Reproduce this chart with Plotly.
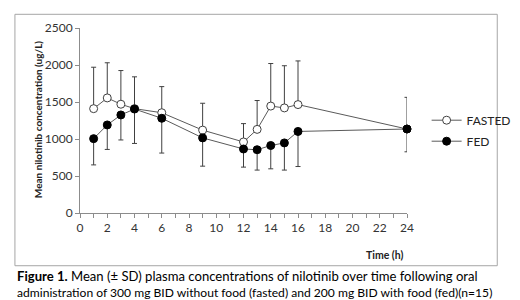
import plotly.graph_objects as go

time_h = [1, 2, 3, 4, 6, 9, 12, 13, 14, 15, 16, 24]
fasted_mean = [1410, 1555, 1470, 1410, 1355, 1120, 960, 1130, 1445, 1420, 1465, 1135]
fasted_sd = [560, 475, 455, 430, 353, 363, 248, 390, 575, 570, 590, 428]
fed_mean = [1005, 1190, 1325, 1405, 1280, 1015, 865, 855, 912, 947, 1102, 1135]
fed_sd = [355, 331, 338, 465, 470, 382, 245, 275, 315, 367, 474, 308]
y_ticks = [0, 500, 1000, 1500, 2000, 2500]
x_ticks = list(range(0, 25, 2))

FONT = "Lato"
line_col = "#5a5a5a"
err_col = "#404040"

fig = go.Figure()
fig.add_trace(go.Scatter(
    x=time_h, y=fasted_mean, name="FASTED", mode="lines+markers", legendgroup="a",
    line=dict(color=line_col, width=1),
    marker=dict(symbol="circle", size=8, color="white", line=dict(color="#404040", width=1)),
    error_y=dict(type="data", symmetric=False, array=fasted_sd, arrayminus=[0]*len(fasted_sd),
                 color=err_col, thickness=1, width=2.5),
    cliponaxis=False,
))
fig.add_trace(go.Scatter(
    x=time_h, y=fed_mean, name="FED", mode="lines+markers", legendgroup="b",
    line=dict(color=line_col, width=1),
    marker=dict(symbol="circle", size=8, color="black", line=dict(color="black", width=1)),
    error_y=dict(type="data", symmetric=False, array=[0]*len(fed_sd), arrayminus=fed_sd,
                 color=err_col, thickness=1, width=2.5),
    cliponaxis=False,
))

fig.update_layout(
    width=520, height=300,
    margin=dict(l=72, r=100, t=17, b=95),
    paper_bgcolor="white", plot_bgcolor="white",
    font=dict(family=FONT, size=11, color="#222222"),
    showlegend=True,
    legend=dict(x=1.06, y=0.58, xanchor="left", yanchor="top",
                font=dict(family=FONT, size=12, color="#222222"),
                bgcolor="rgba(0,0,0,0)", itemwidth=30, tracegroupgap=2,
                traceorder="grouped"),
    xaxis=dict(range=[0, 24], tickvals=x_ticks, ticks="outside", ticklen=4,
               tickcolor="#8c8c8c", showline=True, linecolor="#8c8c8c", linewidth=1,
               showgrid=False, zeroline=False,
               minor=dict(dtick=1, ticks="outside", ticklen=4, tickcolor="#8c8c8c", showgrid=False),
               tickfont=dict(family=FONT, size=12, color="#333333")),
    yaxis=dict(range=[0, 2500], tickvals=y_ticks, ticks="outside", ticklen=4,
               tickcolor="#8c8c8c", showline=True, linecolor="#8c8c8c", linewidth=1,
               showgrid=False, zeroline=False,
               tickfont=dict(family=FONT, size=12, color="#333333")),
    shapes=[dict(type="rect", xref="paper", yref="paper",
                 x0=-0.199, x1=1.276, y0=-0.285, y1=1.074,
                 line=dict(color="#a6a6a6", width=1))],
    annotations=[
        dict(text="<b>Mean nilotinib concentration (ug/L)</b>", xref="paper", yref="paper",
             x=-0.13, y=0.51, xanchor="center", yanchor="middle", textangle=-90, showarrow=False,
             font=dict(family=FONT, size=10, color="#222222")),
        dict(text="<b>Time (h)</b>", xref="paper", yref="paper",
             x=0.931, y=-0.228, xanchor="center", yanchor="middle", showarrow=False,
             font=dict(family=FONT, size=10.5, color="#222222")),
        dict(text="<b>Figure 1.</b> Mean (± SD) plasma concentrations of nilotinib over time following oral",
             xref="paper", yref="paper", x=-0.2, y=-0.34, xanchor="left", yanchor="middle",
             showarrow=False, font=dict(family=FONT, size=13.1, color="black")),
        dict(text="administration of 300 mg BID without food (fasted) and 200 mg BID with food (fed)(n=15)",
             xref="paper", yref="paper", x=-0.2, y=-0.43, xanchor="left", yanchor="middle",
             showarrow=False, font=dict(family=FONT, size=12.1, color="black")),
    ],
)

fig.write_html("out.html")
